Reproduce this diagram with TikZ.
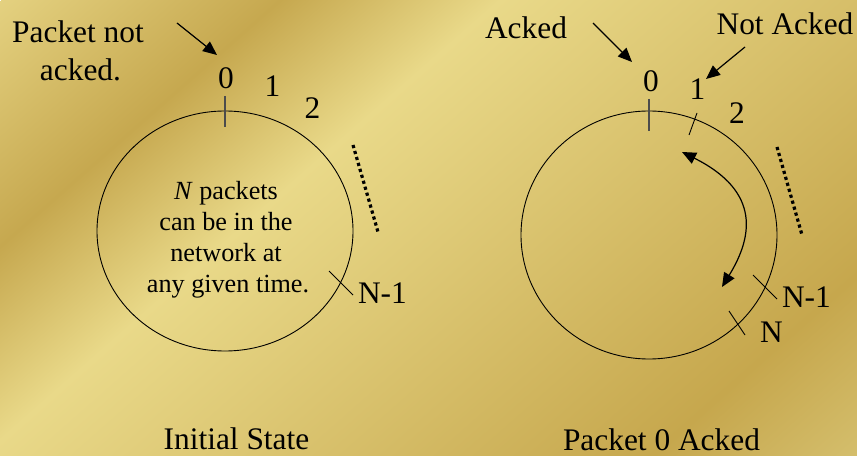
\documentclass[tikz,border=0pt]{standalone}
\usepackage{fontspec}
\setmainfont{Liberation Serif}
\usetikzlibrary{arrows.meta}

% gold sheen colours
\definecolor{goldEdge}{RGB}{228,209,128}
\definecolor{goldDeep}{RGB}{198,168,79}
\definecolor{goldPale}{RGB}{233,217,137}
\definecolor{goldDeepB}{RGB}{198,167,77}
\definecolor{goldEnd}{RGB}{212,190,108}

\pgfdeclarehorizontalshading{goldsheen}{960bp}{%
  color(0bp)=(goldEdge); color(185bp)=(goldDeep); color(330bp)=(goldPale);
  color(773bp)=(goldDeepB); color(908bp)=(goldEnd)}

\tikzset{
  lbl/.style={font=\fontsize{31.5}{36}\selectfont, inner sep=0, outer sep=0, anchor=base},
  lblw/.style={lbl, anchor=base west},
  note/.style={font=\fontsize{26.3}{31}\selectfont, inner sep=0, outer sep=0, anchor=base},
  ring/.style={draw=black, line width=0.9bp},
  tick/.style={draw=black, line width=0.9bp},
  zerotick/.style={draw=black!70, line width=1.3bp},
  pointer/.style={draw=black, line width=1.2bp, -{Triangle[length=14bp,width=12bp]}},
  sweep/.style={draw=black, line width=1.2bp, {Triangle[length=14bp,width=12bp]}-{Triangle[length=14bp,width=12bp]}},
  etc/.style={draw=black, line width=3.2bp, dash pattern=on 3.2bp off 3bp},
}

\begin{document}
\begin{tikzpicture}[x=1bp, y=-1bp]
\useasboundingbox (0,0) rectangle (857,456);

% background
\begin{scope}
  \clip (0,0) rectangle (857,456);
  \node[rotate=-48.65, inner sep=0, outer sep=0] (sheen) at (428.5,228) {\pgfuseshading{goldsheen}};
\end{scope}

% ---------- initial state ----------
\draw[ring] (225,231) ellipse [x radius=128, y radius=120];
\draw[zerotick] (225,96) -- (225,127);
\coordinate (aT1) at (329,271); \coordinate (aT2) at (353,295);
\draw[tick] (aT1) -- (aT2);
\coordinate (aD1) at (353,145); \coordinate (aD2) at (378,232);
\draw[etc] (aD1) -- (aD2);

\node[lbl] (pna1) at (78,43) {Packet not};
\node[lbl] (pna2) at (80.5,81) {acked.};
\coordinate (pA1) at (177,23); \coordinate (pA2) at (217,55);
\draw[pointer] (pA1) -- (pA2);

\node[lbl] (a0) at (226,89) {0};
\node[lbl] (a1) at (272.5,97) {1};
\node[lbl] (a2) at (312.5,119) {2};
\node[lblw] (aN1) at (358,304) {N-1};

\node[note] (t1) at (226,200) {\textit{N} packets};
\node[note] (t2) at (226,231) {can be in the};
\node[note] (t3) at (226,262) {network at};
\node[note] (t4) at (228,293) {any given time.};

\node[lbl] (capA) at (236.5,449) {Initial State};

% ---------- packet 0 acked ----------
\draw[ring] (649,235) ellipse [x radius=128, y radius=124];
\draw[zerotick] (649,99) -- (649,131);
\coordinate (bT1a) at (689,135); \coordinate (bT1b) at (697,113);
\draw[tick] (bT1a) -- (bT1b);
\coordinate (bT2a) at (753,275); \coordinate (bT2b) at (777,299);
\draw[tick] (bT2a) -- (bT2b);
\coordinate (bT3a) at (729,311); \coordinate (bT3b) at (745,335);
\draw[tick] (bT3a) -- (bT3b);
\coordinate (bD1) at (777,147); \coordinate (bD2) at (802,235);
\draw[etc] (bD1) -- (bD2);

\node[lbl] (acked) at (526,39) {Acked};
\node[lbl] (notacked) at (785,35) {Not Acked};
\coordinate (pB1) at (593,23); \coordinate (pB2) at (632,62);
\draw[pointer] (pB1) -- (pB2);
\coordinate (pC1) at (745,47); \coordinate (pC2) at (706,79);
\draw[pointer] (pC1) -- (pC2);

\node[lbl] (b0) at (651,92) {0};
\node[lbl] (b1) at (697.5,100) {1};
\node[lbl] (b2) at (737,124) {2};
\node[lblw] (bN1) at (782,308) {N-1};
\node[lblw] (bN) at (760,343) {N};

\coordinate (sw1) at (722,287); \coordinate (sw2) at (682,152);
\draw[sweep] (sw1) .. controls (752,238) and (762,192) .. (sw2);

\node[lbl] (capB) at (661.5,450) {Packet 0 Acked};
\end{tikzpicture}
\end{document}
